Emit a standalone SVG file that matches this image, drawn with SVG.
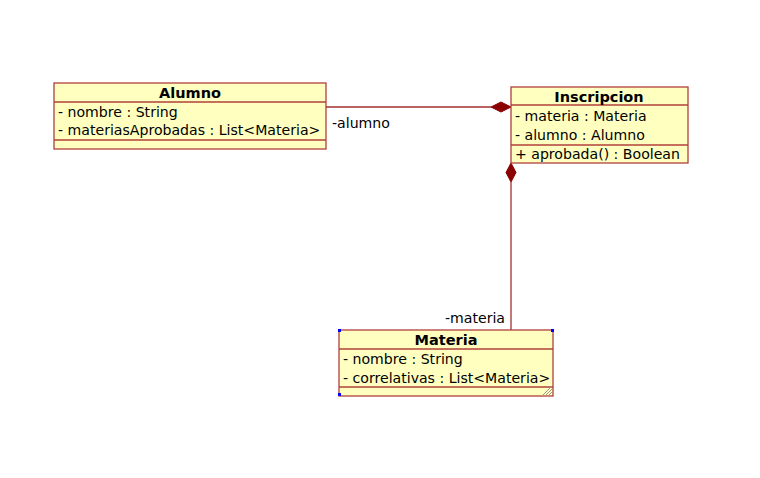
<svg xmlns="http://www.w3.org/2000/svg" width="760" height="478" viewBox="0 0 760 478">
<style>
.box{fill:#ffffc0;stroke:#b0403c;stroke-width:1.3}
.sep{stroke:#b0403c;stroke-width:1.3}
.t{font-family:"DejaVu Sans",Verdana,sans-serif;font-size:14.1px;fill:#000}
.b{font-weight:bold;text-anchor:middle;font-size:14.5px}
.edge{stroke:#a03030;stroke-width:1.3;fill:none}
.dia{fill:#8b0000;stroke:#8b0000}
.h{fill:#0000ff}
</style>
<rect width="760" height="478" fill="#fff"/>
<g id="connectors">
<line class="edge" x1="326" y1="107" x2="491" y2="107"/>
<polygon class="dia" points="491,107 501,102 511,107 501,112"/>
<text class="t" x="332" y="128">-alumno</text>
<line class="edge" x1="511" y1="182" x2="511" y2="330"/>
<polygon class="dia" points="511,163 516,172.5 511,182 506,172.5"/>
<text class="t" x="505" y="323" text-anchor="end">-materia</text>
</g>
<g id="Alumno">
<rect class="box" x="54" y="83" width="272" height="66"/>
<line class="sep" x1="54" y1="102" x2="326" y2="102"/>
<line class="sep" x1="54" y1="140" x2="326" y2="140"/>
<text class="t b" x="190" y="98">Alumno</text>
<text class="t" x="58" y="117">- nombre : String</text>
<text class="t" x="58" y="135">- materiasAprobadas : List&lt;Materia&gt;</text>
</g>
<g id="Inscripcion">
<rect class="box" x="511" y="87" width="177" height="76"/>
<line class="sep" x1="511" y1="105" x2="688" y2="105"/>
<line class="sep" x1="511" y1="145" x2="688" y2="145"/>
<text class="t b" x="599" y="102">Inscripcion</text>
<text class="t" x="515" y="121">- materia : Materia</text>
<text class="t" x="515" y="140">- alumno : Alumno</text>
<text class="t" x="515" y="159">+ aprobada() : Boolean</text>
</g>
<g id="Materia">
<rect class="box" x="339" y="330" width="214" height="66"/>
<line class="sep" x1="339" y1="349" x2="553" y2="349"/>
<line class="sep" x1="339" y1="387" x2="553" y2="387"/>
<text class="t b" x="446" y="345">Materia</text>
<text class="t" x="343" y="364">- nombre : String</text>
<text class="t" x="343" y="383">- correlativas : List&lt;Materia&gt;</text>
<rect class="h" x="338" y="329" width="3" height="3"/>
<rect class="h" x="551" y="329" width="3" height="3"/>
<rect class="h" x="338" y="393" width="3" height="3"/>
<path d="M543,395 L552,386 M546,395 L552,389 M549,395 L552,392" stroke="#999" stroke-width="1"/>
</g>
</svg>
